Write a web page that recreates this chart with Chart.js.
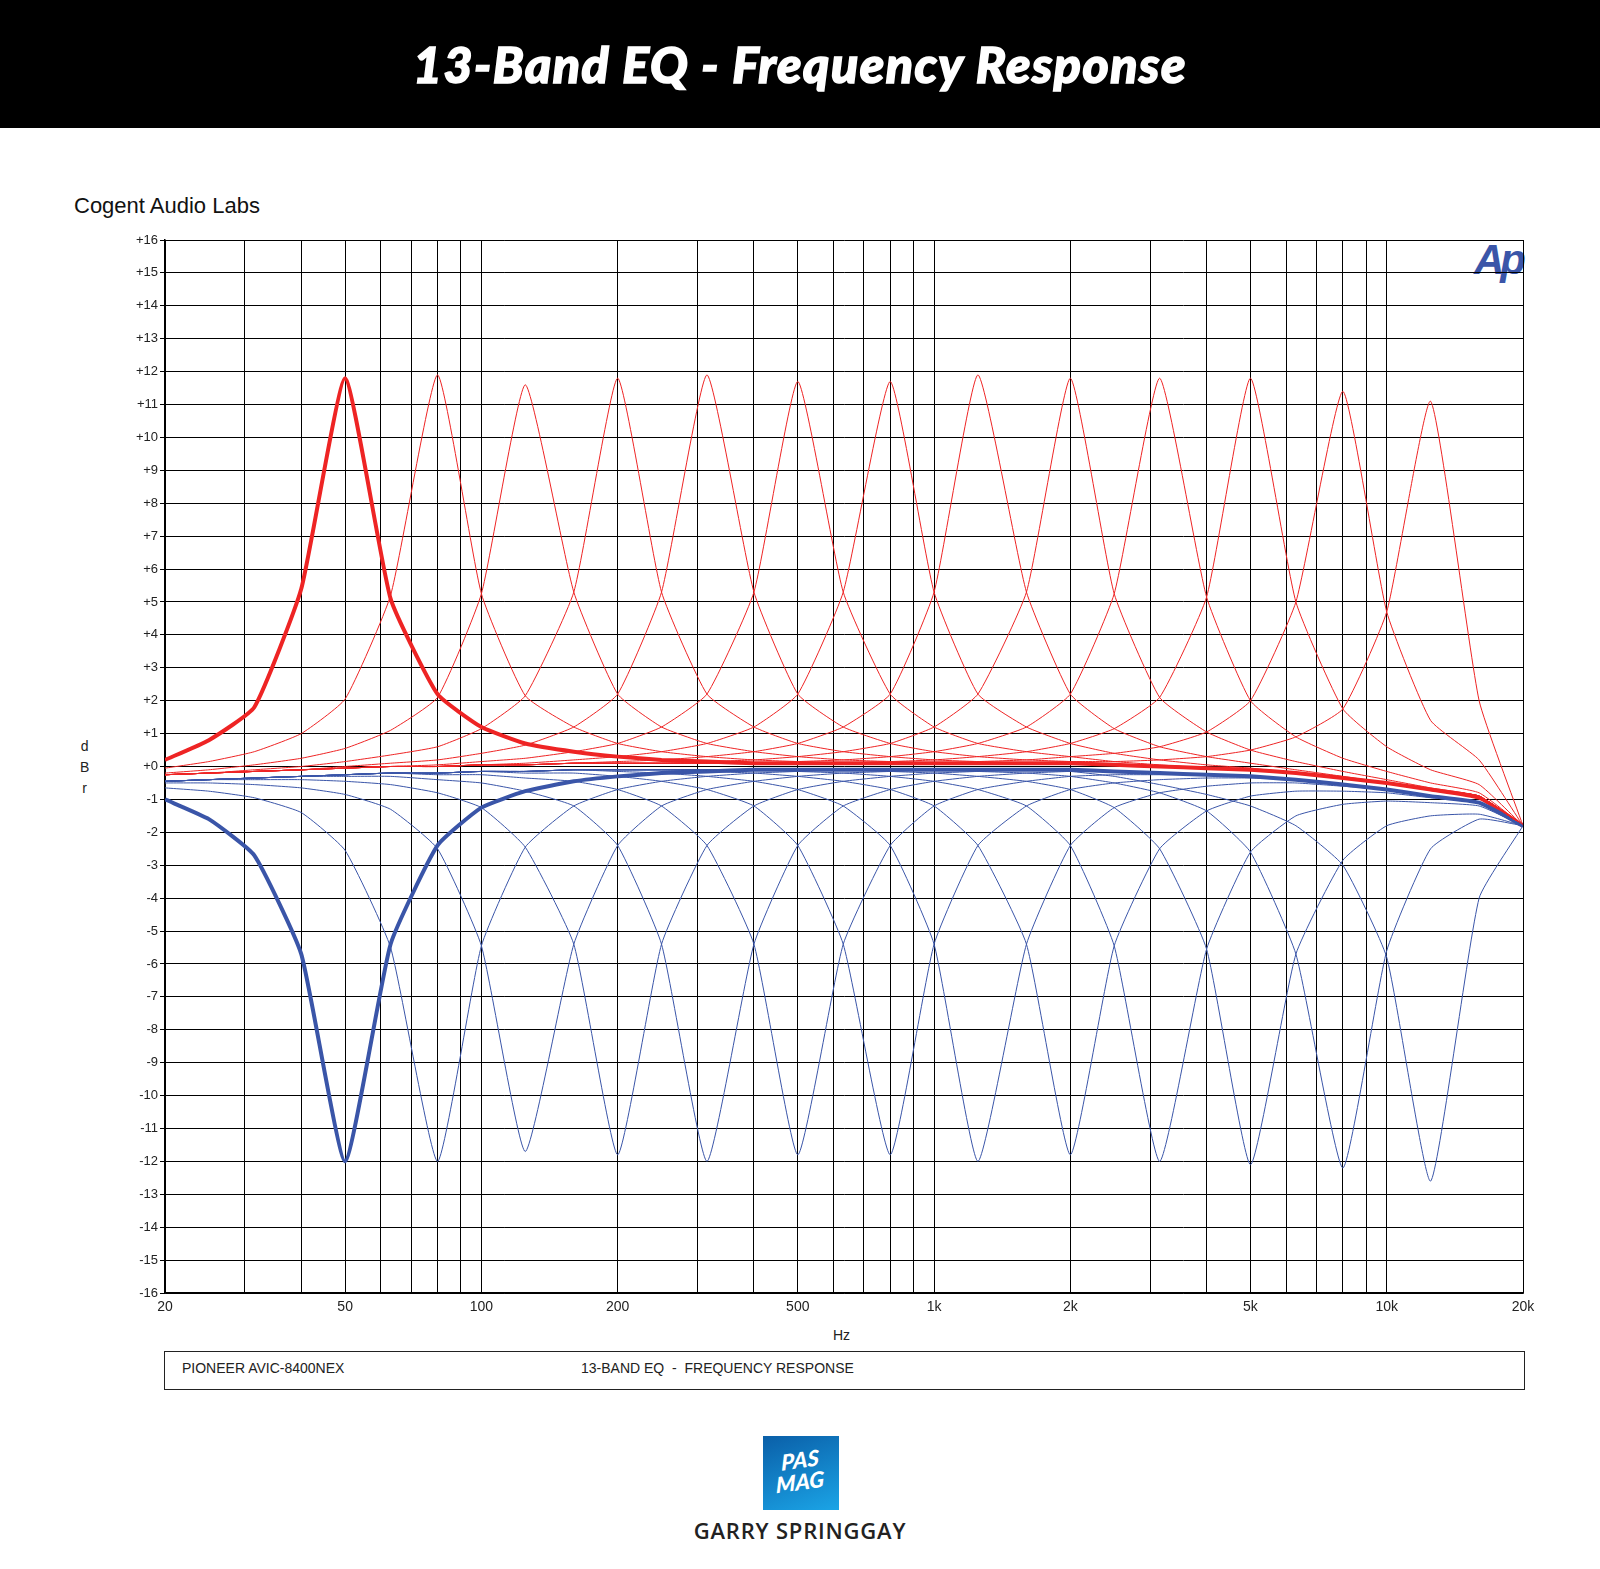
<!DOCTYPE html>
<html><head><meta charset="utf-8">
<script src="https://cdn.jsdelivr.net/npm/chart.js@4/dist/chart.umd.min.js"></script>
<style>
body{margin:0;width:1600px;height:1569px;background:#fff;position:relative;overflow:hidden;font-family:Arial,"Liberation Sans",sans-serif}
#hdr{position:absolute;left:0;top:0;width:1600px;height:128px;background:#000;color:#fff;text-align:center;font-style:italic;font-weight:900;font-size:50px;font-family:Lato,"DejaVu Sans",sans-serif;letter-spacing:1.5px;line-height:128px;-webkit-text-stroke:1.5px #fff}
.t{position:absolute;white-space:nowrap}
#c{position:absolute;left:0;top:0}
#gs{font-family:'Open Sans','DejaVu Sans',sans-serif;font-weight:600;font-size:22px;letter-spacing:0.8px;color:#222}
</style></head><body>
<div id="hdr">13-Band EQ - Frequency Response</div>
<div class="t" style="left:74px;top:193px;font-size:22px;color:#111">Cogent Audio Labs</div>
<div class="t" style="left:80px;top:736px;font-size:14px;line-height:21px;text-align:center;color:#222">d<br>B<br>r</div>
<div class="t" style="left:833px;top:1327px;font-size:14px;color:#222">Hz</div>
<div class="t" style="left:164px;top:1351px;width:1359px;height:37px;border:1.5px solid #222"></div>
<div class="t" style="left:182px;top:1360px;font-size:14px;color:#222">PIONEER AVIC-8400NEX</div>
<div class="t" style="left:581px;top:1360px;font-size:14px;color:#222">13-BAND EQ&nbsp; - &nbsp;FREQUENCY RESPONSE</div>
<div class="t" style="left:1474px;top:236px;font:italic bold 42px Arial,sans-serif;color:#3a55a8;letter-spacing:-4px">Ap</div>
<div class="t" style="left:763px;top:1436px;width:76px;height:74px;background:linear-gradient(160deg,#0a5fa8,#1ba4e6)"></div>
<div class="t" style="left:776px;top:1449px;width:48px;font:italic 900 22px Lato,sans-serif;line-height:22px;color:#fff;text-align:center;transform:skewY(-8deg)">PAS<br>MAG</div>
<div class="t" id="gs" style="left:0;width:1600px;top:1515px;text-align:center">GARRY SPRINGGAY</div>
<canvas id="c" width="1600" height="1569"></canvas>
<script>
const freqs=[20,25,31.5,40,50,63,80,100,125,160,200,250,315,400,500,630,800,1000,1250,1600,2000,2500,3150,4000,5000,6300,8000,10000,12500,16000,20000];
const xGridTicks=[20,30,40,50,60,70,80,90,100,200,300,400,500,600,700,800,900,1000,2000,3000,4000,5000,6000,7000,8000,9000,10000,20000];
const xTickLabels={20:'20',50:'50',100:'100',200:'200',500:'500',1000:'1k',2000:'2k',5000:'5k',10000:'10k',20000:'20k'};
const bands=['50','80','125','200','315','500','800','1250','2000','3150','5000','8000','12500'];

const boost50=[0.2,0.8,1.8,5.4,11.8,5.1,2.2,1.2,0.7,0.45,0.3,0.2,0.15,0.1,0.1,0.1,0.1,0.1,0.1,0.1,0.1,0.05,0,-0.05,-0.1,-0.2,-0.35,-0.5,-0.7,-0.95,-1.8];
const boost80=[-0.05,0.15,0.45,1.0,2.05,5.2,11.9,5.25,2.15,1.2,0.7,0.45,0.3,0.2,0.15,0.1,0.1,0.1,0.1,0.1,0.1,0.05,0,-0.05,-0.1,-0.2,-0.35,-0.5,-0.7,-0.9,-1.8];
const boost125=[-0.2,-0.1,0.05,0.25,0.55,1.1,2.1,5.25,11.6,5.3,2.2,1.2,0.7,0.45,0.3,0.2,0.15,0.1,0.1,0.1,0.1,0.05,0,-0.05,-0.1,-0.2,-0.35,-0.5,-0.7,-0.9,-1.8];
const boost200=[-0.25,-0.2,-0.1,0,0.15,0.35,0.6,1.15,2.15,5.3,11.8,5.3,2.2,1.2,0.7,0.45,0.3,0.2,0.15,0.1,0.1,0.05,0,-0.05,-0.1,-0.2,-0.35,-0.5,-0.7,-0.9,-1.8];
const boost315=[-0.25,-0.2,-0.15,-0.1,0,0.1,0.2,0.4,0.65,1.2,2.2,5.3,11.9,5.3,2.2,1.2,0.7,0.45,0.3,0.2,0.15,0.05,0,-0.05,-0.1,-0.2,-0.35,-0.5,-0.7,-0.9,-1.8];
const boost500=[-0.25,-0.2,-0.15,-0.1,-0.05,0,0.05,0.15,0.25,0.45,0.7,1.2,2.2,5.3,11.7,5.3,2.2,1.2,0.7,0.45,0.3,0.15,0.05,-0.05,-0.1,-0.2,-0.35,-0.5,-0.7,-0.9,-1.8];
const boost800=[-0.25,-0.2,-0.15,-0.1,-0.05,0,0,0.05,0.1,0.2,0.3,0.45,0.7,1.2,2.2,5.3,11.7,5.3,2.2,1.2,0.7,0.4,0.2,0.05,-0.05,-0.2,-0.35,-0.5,-0.7,-0.9,-1.8];
const boost1250=[-0.25,-0.2,-0.15,-0.1,-0.05,0,0,0.05,0.05,0.1,0.15,0.2,0.3,0.45,0.7,1.2,2.2,5.3,11.9,5.3,2.2,1.15,0.6,0.3,0.1,-0.1,-0.3,-0.5,-0.7,-0.9,-1.8];
const boost2000=[-0.25,-0.2,-0.15,-0.1,-0.05,0,0,0.05,0.05,0.1,0.1,0.1,0.15,0.2,0.3,0.45,0.7,1.2,2.2,5.3,11.8,5.25,2.1,1.05,0.5,0.15,-0.15,-0.4,-0.65,-0.9,-1.8];
const boost3150=[-0.25,-0.2,-0.15,-0.1,-0.05,0,0,0.05,0.05,0.1,0.1,0.1,0.1,0.1,0.15,0.2,0.3,0.45,0.7,1.2,2.2,5.25,11.8,5.15,2.0,0.9,0.25,-0.15,-0.5,-0.8,-1.8];
const boost5000=[-0.25,-0.2,-0.15,-0.1,-0.05,0,0,0.05,0.05,0.1,0.1,0.1,0.1,0.1,0.1,0.1,0.15,0.2,0.3,0.45,0.7,1.15,2.1,5.15,11.8,5.0,1.75,0.6,-0.1,-0.55,-1.8];
const boost8000=[-0.25,-0.2,-0.15,-0.1,-0.05,0,0,0.05,0.05,0.1,0.1,0.1,0.1,0.1,0.1,0.1,0.1,0.1,0.15,0.2,0.3,0.4,0.6,1.05,2.0,5.0,11.4,4.7,1.4,0.2,-1.8];
const boost12500=[-0.25,-0.2,-0.15,-0.1,-0.05,0,0,0.05,0.05,0.1,0.1,0.1,0.1,0.1,0.1,0.1,0.1,0.1,0.1,0.1,0.15,0.15,0.2,0.3,0.5,0.9,1.75,4.7,11.1,2.0,-1.8];

const cut50=[-1.0,-1.6,-2.7,-5.7,-12,-5.4,-2.4,-1.25,-0.75,-0.45,-0.3,-0.2,-0.15,-0.1,-0.1,-0.1,-0.1,-0.1,-0.1,-0.1,-0.1,-0.15,-0.2,-0.25,-0.3,-0.4,-0.55,-0.7,-0.9,-1.1,-1.8];
const cut80=[-0.65,-0.75,-0.95,-1.4,-2.55,-5.5,-12,-5.45,-2.45,-1.2,-0.7,-0.45,-0.3,-0.2,-0.15,-0.1,-0.1,-0.1,-0.1,-0.1,-0.1,-0.15,-0.2,-0.25,-0.3,-0.4,-0.55,-0.7,-0.9,-1.1,-1.8];
const cut125=[-0.5,-0.5,-0.55,-0.65,-0.85,-1.3,-2.5,-5.45,-11.7,-5.4,-2.4,-1.2,-0.7,-0.45,-0.3,-0.2,-0.15,-0.1,-0.1,-0.1,-0.1,-0.15,-0.2,-0.25,-0.3,-0.4,-0.55,-0.7,-0.9,-1.1,-1.8];
const cut200=[-0.45,-0.4,-0.4,-0.4,-0.45,-0.55,-0.8,-1.25,-2.45,-5.4,-11.8,-5.4,-2.4,-1.2,-0.7,-0.45,-0.3,-0.2,-0.15,-0.1,-0.1,-0.15,-0.2,-0.25,-0.3,-0.4,-0.55,-0.7,-0.9,-1.1,-1.8];
const cut315=[-0.45,-0.4,-0.35,-0.3,-0.3,-0.3,-0.4,-0.5,-0.75,-1.2,-2.4,-5.4,-12,-5.4,-2.4,-1.2,-0.7,-0.45,-0.3,-0.2,-0.15,-0.15,-0.2,-0.25,-0.3,-0.4,-0.55,-0.7,-0.9,-1.1,-1.8];
const cut500=[-0.45,-0.4,-0.35,-0.3,-0.25,-0.2,-0.25,-0.25,-0.35,-0.45,-0.7,-1.2,-2.4,-5.4,-11.8,-5.4,-2.4,-1.2,-0.7,-0.45,-0.3,-0.25,-0.25,-0.25,-0.3,-0.4,-0.55,-0.7,-0.9,-1.1,-1.8];
const cut800=[-0.45,-0.4,-0.35,-0.3,-0.25,-0.2,-0.2,-0.15,-0.2,-0.2,-0.3,-0.45,-0.7,-1.2,-2.4,-5.4,-11.8,-5.4,-2.4,-1.2,-0.7,-0.5,-0.4,-0.35,-0.35,-0.4,-0.55,-0.7,-0.9,-1.1,-1.8];
const cut1250=[-0.45,-0.4,-0.35,-0.3,-0.25,-0.2,-0.2,-0.15,-0.15,-0.1,-0.15,-0.2,-0.3,-0.45,-0.7,-1.2,-2.4,-5.4,-12,-5.4,-2.4,-1.25,-0.8,-0.6,-0.5,-0.5,-0.6,-0.7,-0.9,-1.1,-1.8];
const cut2000=[-0.45,-0.4,-0.35,-0.3,-0.25,-0.2,-0.2,-0.15,-0.15,-0.1,-0.1,-0.1,-0.15,-0.2,-0.3,-0.45,-0.7,-1.2,-2.4,-5.4,-11.8,-5.45,-2.5,-1.35,-0.9,-0.75,-0.75,-0.8,-0.95,-1.1,-1.8];
const cut3150=[-0.45,-0.4,-0.35,-0.3,-0.25,-0.2,-0.2,-0.15,-0.15,-0.1,-0.1,-0.1,-0.1,-0.1,-0.15,-0.2,-0.3,-0.45,-0.7,-1.2,-2.4,-5.45,-12,-5.55,-2.6,-1.5,-1.15,-1.05,-1.1,-1.2,-1.8];
const cut5000=[-0.45,-0.4,-0.35,-0.3,-0.25,-0.2,-0.2,-0.15,-0.15,-0.1,-0.1,-0.1,-0.1,-0.1,-0.1,-0.1,-0.15,-0.2,-0.3,-0.45,-0.7,-1.25,-2.5,-5.55,-12.1,-5.7,-2.85,-1.8,-1.5,-1.45,-1.8];
const cut8000=[-0.45,-0.4,-0.35,-0.3,-0.25,-0.2,-0.2,-0.15,-0.15,-0.1,-0.1,-0.1,-0.1,-0.1,-0.1,-0.1,-0.1,-0.1,-0.15,-0.2,-0.3,-0.5,-0.8,-1.35,-2.6,-5.7,-12.2,-5.6,-2.5,-1.6,-1.8];
const cut12500=[-0.45,-0.4,-0.35,-0.3,-0.25,-0.2,-0.2,-0.15,-0.15,-0.1,-0.1,-0.1,-0.1,-0.1,-0.1,-0.1,-0.1,-0.1,-0.1,-0.1,-0.15,-0.3,-0.55,-0.85,-1.2,-1.8,-3.0,-5.8,-12.6,-4.0,-1.8];

const RED='#ee2424', BLUE='#3a55a8';
const thinBoost=[boost80,boost125,boost200,boost315,boost500,boost800,boost1250,boost2000,boost3150,boost5000,boost8000,boost12500];
const thinCut=[cut80,cut125,cut200,cut315,cut500,cut800,cut1250,cut2000,cut3150,cut5000,cut8000,cut12500];
const mk=(arr,col,w,lbl)=>({label:lbl,data:arr.map((v,i)=>({x:freqs[i],y:v})),borderColor:col,borderWidth:w,pointRadius:0,fill:false,tension:0.15});
const datasets=[];
thinCut.forEach((a,i)=>datasets.push(mk(a,BLUE,1,'cut '+bands[i+1])));
thinBoost.forEach((a,i)=>datasets.push(mk(a,RED,1,'boost '+bands[i+1])));
datasets.push(mk(cut50,BLUE,4,'cut 50'));
datasets.push(mk(boost50,RED,4,'boost 50'));

new Chart(document.getElementById('c'),{
 type:'line',data:{datasets},
 options:{responsive:false,animation:false,devicePixelRatio:1,
  layout:{padding:{left:115,right:77,top:240,bottom:231}},
  plugins:{legend:{display:false},tooltip:{enabled:false}},
  scales:{
   x:{type:'logarithmic',min:20,max:20000,
    afterBuildTicks:s=>{s.ticks=xGridTicks.map(v=>({value:v}));},
    afterFit:s=>{s.height=45;},
    ticks:{autoSkip:false,maxRotation:0,padding:6,color:'#222',font:{size:14,family:'Arial'},callback:v=>xTickLabels[v]||''},
    grid:{color:'#000',lineWidth:1,tickLength:0},border:{color:'#000',width:1.5}},
   y:{min:-16,max:16,
    afterFit:s=>{s.width=50;},
    ticks:{stepSize:1,padding:2,color:'#222',font:{size:13,family:'Arial'},callback:v=>v>=0?'+'+v:String(v)},
    grid:{color:'#000',lineWidth:1,tickLength:5},border:{color:'#000',width:1.5}}
  }}
});
</script></body></html>
